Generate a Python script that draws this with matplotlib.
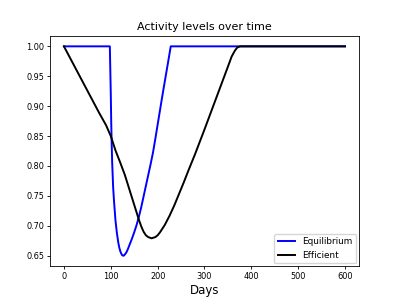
import matplotlib

matplotlib.use("Agg")
import matplotlib.pyplot as plt

# Equilibrium path (blue)
eq_days = [0, 98, 99, 100, 101, 102, 103, 105, 107, 110, 113, 116, 118, 120, 122, 124,
           126, 128, 130, 133, 136, 140, 145, 150, 155, 160, 165, 170, 175, 180, 185,
           190, 195, 200, 205, 210, 215, 220, 225, 228, 600]
eq_vals = [1.0, 1.0, 0.96, 0.92, 0.87, 0.835, 0.805, 0.765, 0.74, 0.709, 0.688, 0.672,
           0.664, 0.658, 0.654, 0.651, 0.650, 0.650, 0.652, 0.655, 0.660, 0.668, 0.678,
           0.689, 0.701, 0.715, 0.731, 0.749, 0.767, 0.785, 0.803, 0.822, 0.845, 0.869,
           0.893, 0.917, 0.940, 0.963, 0.986, 1.0, 1.0]

# Efficient path (black)
ef_days = [0, 25, 50, 75, 90, 100, 110, 120, 130, 140, 150, 160, 165, 170, 175, 180,
           187, 195, 200, 205, 215, 225, 235, 245, 255, 265, 280, 300, 320, 340, 350,
           358, 365, 370, 376, 600]
ef_vals = [1.0, 0.963, 0.926, 0.889, 0.868, 0.850, 0.826, 0.806, 0.785, 0.760, 0.735,
           0.710, 0.699, 0.690, 0.684, 0.681, 0.679, 0.681, 0.684, 0.689, 0.701, 0.716,
           0.733, 0.752, 0.771, 0.791, 0.820, 0.861, 0.903, 0.945, 0.966, 0.983, 0.993,
           0.998, 1.0, 1.0]

plt.rcParams["axes.linewidth"] = 0.6
plt.rcParams["xtick.major.width"] = 0.6
plt.rcParams["ytick.major.width"] = 0.6
plt.rcParams["xtick.major.size"] = 2.2
plt.rcParams["ytick.major.size"] = 2.2

fig, ax = plt.subplots(figsize=(3.99, 2.99), dpi=100)
ax.plot(eq_days, eq_vals, color="blue", linewidth=1.4, label="Equilibrium")
ax.plot(ef_days, ef_vals, color="black", linewidth=1.4, label="Efficient")

ax.set_title("Activity levels over time", fontsize=8, pad=4)
ax.set_xlabel("Days", fontsize=8.5, labelpad=2)
ax.set_xticks([0, 100, 200, 300, 400, 500, 600])
ax.set_yticks([0.65, 0.70, 0.75, 0.80, 0.85, 0.90, 0.95, 1.00])
ax.tick_params(labelsize=5.9, pad=2)
ax.legend(loc="lower right", fontsize=6.4, borderaxespad=0.3)

fig.subplots_adjust(left=0.125, right=0.9, bottom=0.11, top=0.88)
fig.savefig("out.png", dpi=100)
